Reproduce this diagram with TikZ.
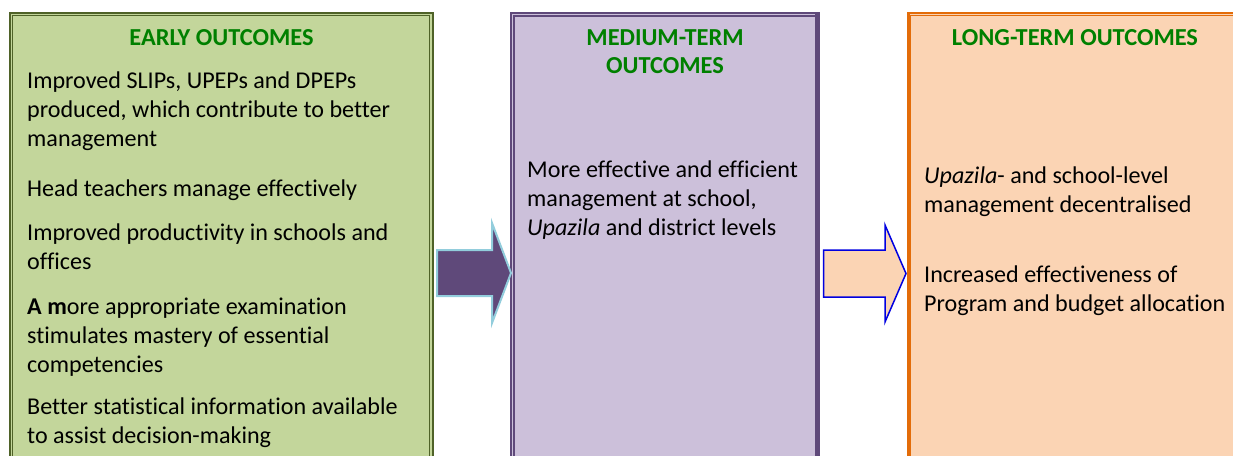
\documentclass[tikz,border=0pt]{standalone}
\usepackage{fontspec}
\setmainfont[Ligatures=NoCommon]{Carlito}
\definecolor{gfill}{HTML}{C3D69B}
\definecolor{gline}{HTML}{4F6228}
\definecolor{pfill}{HTML}{CCC0DA}
\definecolor{pline}{HTML}{5F497A}
\definecolor{ofill}{HTML}{FBD4B4}
\definecolor{oline}{HTML}{E36C09}
\definecolor{titlegreen}{HTML}{008000}
\definecolor{lblue}{HTML}{92CDDC}
\definecolor{dblue}{HTML}{0000E0}
\begin{document}
\begin{tikzpicture}[x=1pt,y=-1pt,
  txt/.style={anchor=base west, align=left, font=\fontsize{24.1}{29}\selectfont, inner sep=0pt, text=black},
  ttl/.style={anchor=base, align=center, font=\fontsize{24.4}{28}\selectfont\bfseries, text=titlegreen, inner sep=0pt}]
\useasboundingbox (0,0) rectangle (1233,455);
\clip (0,0) rectangle (1233,455);
% green box
\fill[gfill] (10,13) rectangle (433,470);
\draw[gline, line width=2.5] (10,13) rectangle (433,470);
\draw[gline, line width=1] (12.8,15.6) rectangle (429.6,470);
% purple box
\fill[pfill] (511,13) rectangle (818,470);
\draw[pline, line width=2] (511,470) -- (511,13) -- (817,13);
\draw[pline, line width=1.6] (514.2,470) -- (514.2,15.8) -- (817,15.8);
\draw[pline, line width=5] (817.5,12) -- (817.5,470);
% orange box
\fill[ofill] (908.5,13) rectangle (1250,470);
\draw[oline, line width=2.5] (908.5,13) rectangle (1250,470);
\draw[oline, line width=1] (910.5,15.6) rectangle (1250,470);
% arrows
\draw[lblue, line width=2, fill=pline, line join=miter]
  (437,250) -- (492,250) -- (492,223) -- (511,273) -- (492,323) -- (492,296) -- (437,296) -- cycle;
\draw[dblue, line width=1.5, fill=ofill, line join=miter]
  (823.5,250) -- (885,250) -- (885,225) -- (906,273.5) -- (885,322) -- (885,297) -- (823.5,297) -- cycle;
% titles (anchor at baseline of the last line)
\node[ttl] (t1) at (221.5,45) {EARLY OUTCOMES};
\node[ttl] (t2) at (665,73) {MEDIUM-TERM\\OUTCOMES};
\node[ttl] (t3) at (1075,45) {LONG-TERM OUTCOMES};
% green texts
\node[txt] (g1) at (27,146) {Improved SLIPs, UPEPs and DPEPs\\produced, which contribute to better\\management};
\node[txt] (g2) at (27,196) {Head teachers manage effectively};
\node[txt] (g3) at (27,269) {Improved productivity in schools and\\offices};
\node[txt] (g4) at (27,372) {\textbf{A m}ore appropriate examination\\stimulates mastery of essential\\competencies};
\node[txt] (g5) at (27,443) {Better statistical information available\\to assist decision-making};
% purple text
\node[txt] (p1) at (527,235) {More effective and efficient\\management at school,\\\textit{Upazila} and district levels};
% orange texts
\node[txt] (o1) at (924,212) {\textit{Upazila}- and school-level\\management decentralised};
\node[txt] (o2) at (924,311) {Increased effectiveness of\\Program and budget allocation};
\end{tikzpicture}
\end{document}
